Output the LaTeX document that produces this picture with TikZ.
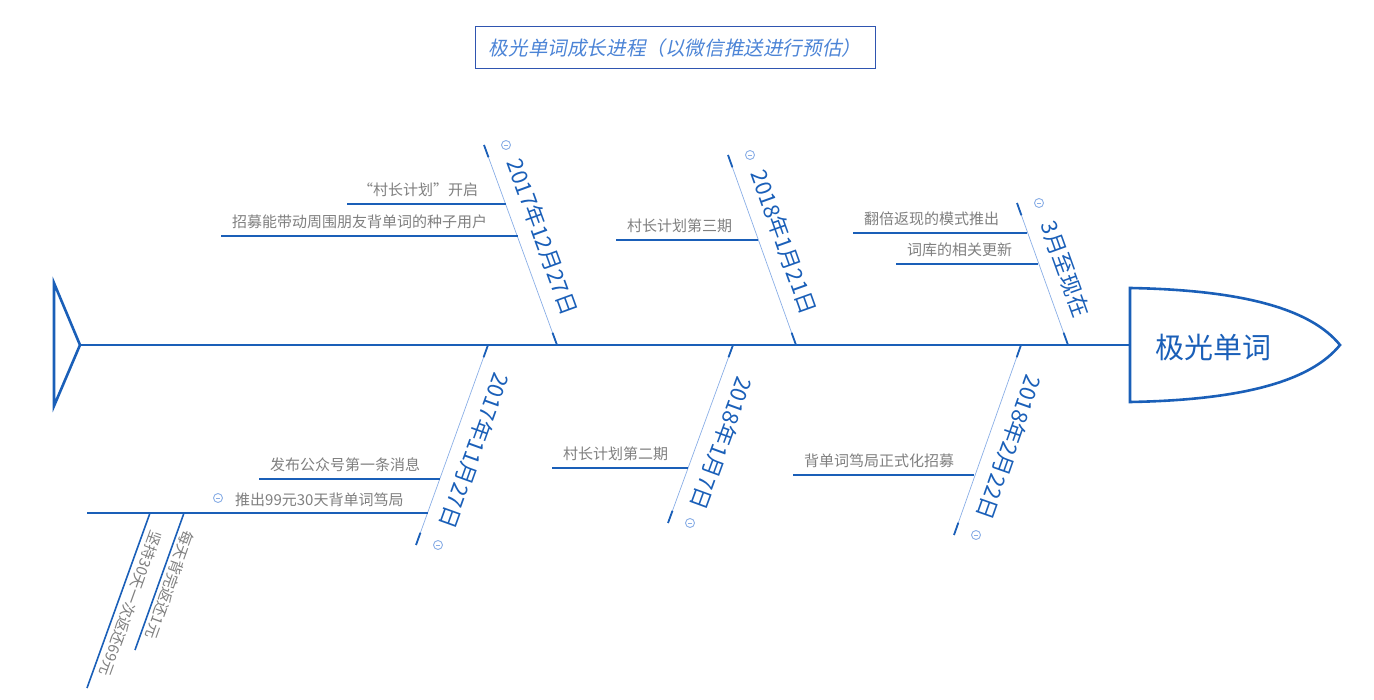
\documentclass[tikz,border=0pt]{standalone}
\usepackage{fontspec}
\setmainfont{Noto Sans CJK SC}
\newfontfamily\slantcjk[FakeSlant=0.2]{Noto Sans CJK SC}
\usetikzlibrary{calc}

\definecolor{bone}{HTML}{1A5FB8}
\definecolor{ribline}{HTML}{8AAEE6}
\definecolor{leafgray}{HTML}{7F7F7F}
\definecolor{titleblue}{HTML}{4C84D6}
\definecolor{titleframe}{HTML}{2F55B0}

\tikzset{
  spine/.style={draw=bone, line width=2.6pt},
  rib/.style={draw=ribline, line width=0.7pt},
  ribend/.style={draw=bone, line width=1.8pt},
  twig/.style={draw=bone, line width=1.6pt},
  datelabel/.style={text=bone, font=\fontsize{22}{22}\selectfont, inner sep=0pt},
  leaflabel/.style={text=leafgray, font=\fontsize{15}{15}\selectfont, inner sep=0pt},
  fold/.style={circle, draw=ribline, line width=0.9pt, minimum size=9pt, inner sep=0pt,
    path picture={\draw[ribline, line width=0.9pt] ([xshift=-2.2pt]path picture bounding box.center) -- ([xshift=2.2pt]path picture bounding box.center);}}
}

\begin{document}
\begin{tikzpicture}[x=1pt, y=-1pt]
\useasboundingbox (0,0) rectangle (1374,700);

% title
\node[draw=titleframe, line width=1pt, minimum width=400pt, minimum height=42pt,
  text=titleblue, font=\slantcjk\fontsize{19.6}{19.6}\selectfont] (title) at (675,48)
  {极光单词成长进程（以微信推送进行预估）};

% tail, spine and head
\coordinate (tail) at (80,345);
\coordinate (neck) at (1130,345);
\draw[spine] (54,283) -- (tail) -- (54,406) -- cycle;
\draw[spine] (tail) -- (neck);
\draw[spine] (1130,402) -- (1130,288) .. controls (1240,290) and (1310,308) .. (1340,345)
  .. controls (1310,382) and (1240,400) .. (1130,402) -- cycle;
\node[text=bone, font=\fontsize{29}{29}\selectfont] (fish) at (1213,347) {极光单词};

% bones: root on the spine, tip free
\coordinate (root1) at (557,345);  \coordinate (tip1) at (484,145);
\coordinate (root2) at (796,345);  \coordinate (tip2) at (728,155);
\coordinate (root3) at (1068,345); \coordinate (tip3) at (1017,203);
\coordinate (root4) at (488,345);  \coordinate (tip4) at (416,545);
\coordinate (root5) at (733,345);  \coordinate (tip5) at (668,523);
\coordinate (root6) at (1021,345); \coordinate (tip6) at (954,535);

\foreach \i in {1,...,6} {
  \draw[rib] (root\i) -- (tip\i);
  \draw[ribend] (root\i) -- ($(root\i)!13pt!(tip\i)$);
  \draw[ribend] (tip\i) -- ($(tip\i)!13pt!(root\i)$);
  \node[fold] (fold\i) at ([xshift=22pt]tip\i) {};
}

\path (tip1) -- (root1) node[datelabel, sloped, allow upside down, above=13pt, pos=0.5] (date1) {2017年12月27日};
\path (tip2) -- (root2) node[datelabel, sloped, allow upside down, above=13pt, pos=0.5] (date2) {2018年1月21日};
\path (tip3) -- (root3) node[datelabel, sloped, allow upside down, above=13pt, pos=0.52] (date3) {3月至现在};
\path (root4) -- (tip4) node[datelabel, sloped, allow upside down, above=13pt, pos=0.49] (date4) {2017年11月27日};
\path (root5) -- (tip5) node[datelabel, sloped, allow upside down, above=13pt, pos=0.51] (date5) {2018年1月7日};
\path (root6) -- (tip6) node[datelabel, sloped, allow upside down, above=13pt, pos=0.5] (date6) {2018年2月22日};

% twigs
\foreach \sx/\ex/\y/\txt [count=\n] in {347/506/204/{“村长计划”开启},
    221/518/236/{招募能带动周围朋友背单词的种子用户},
    616/758/240/{村长计划第三期},
    853/1027/233/{翻倍返现的模式推出},
    896/1038/264/{词库的相关更新},
    259/440/479/{发布公众号第一条消息},
    552/688/468/{村长计划第二期},
    793/974/475/{背单词笃局正式化招募}} {
  \coordinate (twigs\n) at (\sx,\y);
  \coordinate (twige\n) at (\ex,\y);
  \draw[twig] (twigs\n) -- (twige\n);
  \node[leaflabel, anchor=base west] (leaf\n) at (\sx+11,\y-8) {\txt};
}

\coordinate (twigs9) at (87,513);
\coordinate (twige9) at (428,513);
\draw[twig] (twigs9) -- (twige9);
\node[leaflabel, anchor=base west] (leaf9) at (235,505) {推出99元30天背单词笃局};
\node[fold] (fold9) at (218,498) {};

% sub twigs under the 99 line
\coordinate (sub1a) at (150,513); \coordinate (sub1b) at (87,688);
\coordinate (sub2a) at (184,513); \coordinate (sub2b) at (135,650);
\draw[twig] (sub1a) -- (sub1b) node[leaflabel, sloped, allow upside down, above=5pt, pos=0.49] (subl1) {坚持30天一次返还69元};
\draw[twig] (sub2a) -- (sub2b) node[leaflabel, sloped, allow upside down, above=3pt, pos=0.5] (subl2) {每天背完返还1元};

\end{tikzpicture}
\end{document}
